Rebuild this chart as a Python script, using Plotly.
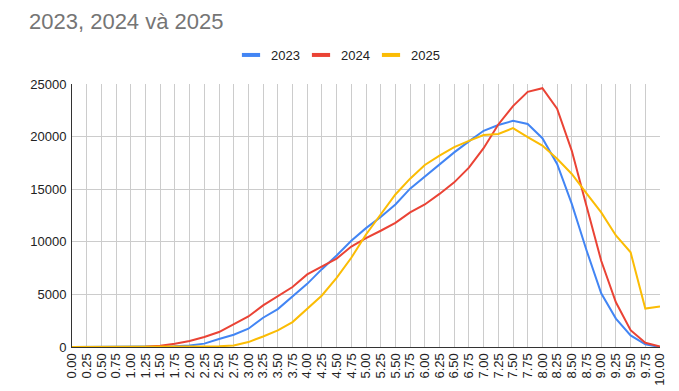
import plotly.graph_objects as go

x_labels = [f"{i*0.25:.2f}" for i in range(41)]

s2023 = [0, 0, 0, 0, 0, 0, 20, 60, 150, 320, 760, 1170, 1740, 2780, 3600, 4800,
         6000, 7400, 8700, 10100, 11300, 12350, 13550, 15050, 16200, 17400, 18500,
         19550, 20550, 21100, 21500, 21200, 19850, 17400, 13600, 9200, 5100, 2700,
         1100, 250, 0]
s2024 = [0, 0, 0, 0, 0, 20, 130, 300, 570, 950, 1420, 2150, 2900, 3950, 4800, 5700,
         6900, 7650, 8400, 9550, 10350, 11050, 11800, 12800, 13550, 14550, 15650,
         17050, 18900, 21150, 22900, 24250, 24600, 22650, 18650, 13400, 8200, 4250,
         1600, 400, 50]
s2025 = [0, 0, 0, 0, 0, 0, 0, 0, 0, 30, 60, 150, 470, 1000, 1580, 2370,
         3640, 4900, 6580, 8480, 10700, 12650, 14500, 16000, 17300, 18200, 19000,
         19600, 20150, 20250, 20800, 19950, 19150, 17900, 16450, 14600, 12800, 10600,
         9000, 3650, 3850]

series = [("2023", s2023, "#4285F4"), ("2024", s2024, "#EA4335"), ("2025", s2025, "#FBBC04")]

FONT = "Arial, 'Liberation Sans', sans-serif"

# page body has an 8px default margin; size the figure to fit the 679x391 window
W, H = 671, 383
OFF = 8

fig = go.Figure()
for name, vals, color in series:
    fig.add_trace(go.Scatter(x=x_labels, y=vals, mode="lines", name=name,
                             line=dict(color=color, width=2), showlegend=False,
                             legendgroup=name))
# legend entries (short thick bars like the reference)
for name, vals, color in series:
    fig.add_trace(go.Scatter(x=[None], y=[None], mode="markers", name=name,
                             legendgroup=name,
                             marker=dict(symbol="line-ew", size=13,
                                         line=dict(color=color, width=4))))

pl, pr, pt, pb = 72 - OFF, 660 - OFF, 84 - OFF, 347 - OFF
fig.update_layout(
    width=W, height=H,
    margin=dict(l=pl, r=W - pr, t=pt, b=H - pb),
    paper_bgcolor="white", plot_bgcolor="white",
    font=dict(family=FONT, size=13, color="#222222"),
    title=dict(text="2023, 2024 và 2025", x=(29 - OFF) / W, xanchor="left",
               y=1 - (21 - OFF) / H, yanchor="middle",
               font=dict(size=22, color="#757575", family=FONT)),
    legend=dict(orientation="h", x=(231 - 72) / 588, xanchor="left",
                y=(347 - 55) / 263, yanchor="middle",
                font=dict(size=13, color="#222222"), itemwidth=30,
                entrywidth=25, entrywidthmode="pixels"),
    showlegend=True,
)
fig.update_xaxes(type="category", showgrid=True, gridcolor="#cccccc", gridwidth=1,
                 tickangle=-90, tickfont=dict(size=13, color="#222222"),
                 tickmode="array", tickvals=x_labels, ticktext=x_labels,
                 showline=True, linecolor="#333333", linewidth=1, ticks="",
                 range=[0, 40], zeroline=False, automargin=False)
fig.update_yaxes(range=[0, 25000], dtick=5000, showgrid=True, gridcolor="#cccccc",
                 showline=True, linecolor="#333333", linewidth=1, ticks="",
                 tickfont=dict(size=13, color="#222222"), zeroline=False,
                 tickformat="d", automargin=False, ticklabelstandoff=2)

fig.write_html("out.html")
